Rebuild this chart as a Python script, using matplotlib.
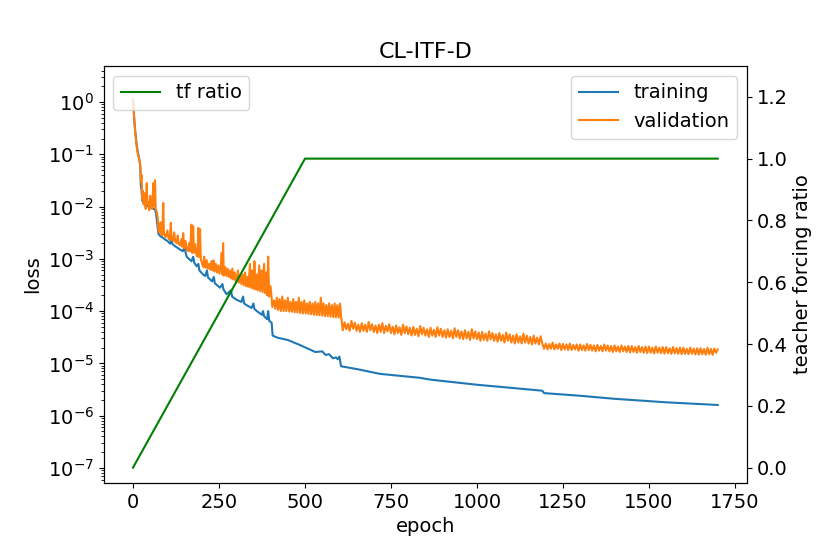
import numpy as np
import matplotlib
matplotlib.use("Agg")
import matplotlib.pyplot as plt
from matplotlib.ticker import MultipleLocator

plt.rcParams['font.size'] = 14

# training loss (epoch, loss)
train_epochs = [0, 2, 4, 6, 8, 10, 13, 16, 19, 21, 23, 25, 27, 30, 35, 40, 45, 50, 55, 60,
                64, 67, 70, 74, 80, 88, 95, 100, 108, 112, 115, 125, 137, 145, 150, 153, 156, 170, 175, 178,
                185, 190, 193, 204, 210, 215, 218, 230, 235, 238, 253, 260, 263, 272, 285, 288, 301, 315, 320, 323,
                330, 345, 350, 353, 360, 375, 378, 381, 390, 393, 396, 403, 406, 420, 450, 485, 530, 550, 560, 570,
                581, 590, 595, 600, 605, 650, 718, 834, 863, 1000, 1100, 1190, 1195, 1300, 1400, 1550, 1700]
train_loss = [1.1, 0.7, 0.42, 0.3, 0.22, 0.17, 0.12, 0.095, 0.075, 0.06, 0.025, 0.02, 0.013, 0.012, 0.011, 0.0105, 0.01, 0.0098, 0.0095, 0.009,
              0.0088, 0.0075, 0.005, 0.003, 0.0027, 0.0025, 0.0023, 0.0022, 0.00195, 0.0023, 0.0019, 0.0017, 0.0015, 0.0014, 0.0017, 0.0013, 0.0011, 0.0009, 0.0011, 0.00085,
              0.00072, 0.0008, 0.0006, 0.0005, 0.00047, 0.0006, 0.00044, 0.00037, 0.00045, 0.00034, 0.00028, 0.00033, 0.00026, 0.00021, 0.00025, 0.00019, 0.000165, 0.00015, 0.00019, 0.00014,
              0.00013, 0.000115, 0.00014, 0.00011, 0.0001, 8.5e-05, 0.0001, 8e-05, 7e-05, 0.0001, 6.5e-05, 6e-05, 3.4e-05, 3.1e-05, 2.8e-05, 2.25e-05, 1.65e-05, 1.7e-05, 1.45e-05, 1.5e-05,
              1.25e-05, 1.3e-05, 1.2e-05, 1.35e-05, 8.8e-06, 7.8e-06, 6.3e-06, 5.3e-06, 4.9e-06, 3.9e-06, 3.4e-06, 3.0e-06, 2.7e-06, 2.4e-06, 2.1e-06, 1.8e-06, 1.6e-06]

# validation loss, early part (epoch, loss)
val_epochs_early = [0, 2, 4, 6, 8, 10, 13, 16, 19, 21, 23, 25, 27, 29, 31, 33, 35, 37, 40, 42,
                    45, 47, 50, 52, 55, 57, 59, 61, 64, 66, 69, 72, 74, 77, 80, 82, 85, 88, 90, 95,
                    100, 103, 107, 110, 112, 116, 120, 123, 127, 130, 133, 137, 141, 144, 146, 149, 153, 156, 160, 163,
                    166, 170, 172, 175, 177, 181, 184, 188, 190, 192, 195, 197, 200, 204, 207, 210, 214, 217, 221, 224,
                    228, 231, 234, 237, 241, 244, 248, 251, 255, 258, 260, 262, 264, 268, 271, 275, 278, 282, 285, 289,
                    292, 296, 299, 301, 305, 308, 312, 315, 319, 322, 326, 329, 333, 336, 340, 343, 347, 350, 353, 356,
                    360, 363, 367, 370, 374, 377, 381, 384, 388, 390, 393, 396, 400, 403, 405, 410, 414, 418, 422, 426,
                    430, 434, 438, 442, 446, 450, 454, 458, 462, 466, 470, 474, 478, 482, 486, 490, 494, 498, 502, 506,
                    510, 514, 518, 522, 526, 530, 534, 538, 542, 546, 550, 554, 558, 562, 566, 570, 574, 578, 582, 586,
                    590, 594, 598, 602, 605]
val_early = [1.1, 0.7, 0.42, 0.28, 0.2, 0.15, 0.11, 0.09, 0.075, 0.065, 0.03, 0.04, 0.014, 0.02, 0.011, 0.018, 0.012, 0.009, 0.028, 0.011,
             0.012, 0.0085, 0.016, 0.01, 0.009, 0.014, 0.028, 0.01, 0.032, 0.009, 0.008, 0.006, 0.0035, 0.0032, 0.005, 0.003, 0.0028, 0.0117, 0.003, 0.0026,
             0.0035, 0.0025, 0.0023, 0.0049, 0.0024, 0.0022, 0.0032, 0.0021, 0.002, 0.0028, 0.0019, 0.0018, 0.0024, 0.0017, 0.0031, 0.0016, 0.0022, 0.0015, 0.0014, 0.002,
             0.0014, 0.0045, 0.0013, 0.0042, 0.0013, 0.0019, 0.0012, 0.0011, 0.0039, 0.0011, 0.0037, 0.001, 0.00085, 0.0007, 0.0011, 0.00068, 0.00095, 0.00065, 0.0008, 0.00062,
             0.0009, 0.0006, 0.00093, 0.00057, 0.0008, 0.00055, 0.00075, 0.00052, 0.0007, 0.0013, 0.0005, 0.002, 0.00048, 0.0007, 0.00047, 0.00065, 0.00045, 0.0006, 0.00042, 0.00065,
             0.0004, 0.00055, 0.00037, 0.00036, 0.0006, 0.00035, 0.00048, 0.00033, 0.0005, 0.00031, 0.00055, 0.0003, 0.00045, 0.00029, 0.0008, 0.00028, 0.0006, 0.00027, 0.0009, 0.00026,
             0.0005, 0.00025, 0.00075, 0.00024, 0.0006, 0.00023, 0.0008, 0.00022, 0.00055, 0.0002, 0.0011, 0.00019, 0.0003, 0.00018, 0.00012, 0.00016, 0.00011, 0.00018, 0.000105, 0.00017,
             0.0001, 0.00019, 0.0001, 0.00016, 0.0001, 0.00018, 9.8e-05, 0.00015, 9.7e-05, 0.00017, 9.5e-05, 0.00015, 9.4e-05, 0.00018, 9.2e-05, 0.00015, 9e-05, 0.00016, 9e-05, 0.00014,
             8.8e-05, 0.00015, 8.7e-05, 0.00014, 8.5e-05, 0.00015, 8.4e-05, 0.00014, 8.3e-05, 0.00018, 8.2e-05, 0.00014, 8e-05, 0.00013, 8e-05, 0.00014, 7.8e-05, 0.00013, 7.7e-05, 0.00014,
             7.6e-05, 0.00013, 7.5e-05, 0.00014, 8e-05]

# validation loss, later part, one value every 5 epochs from 610 to 1700 (x 1e-5)
val_late = [4.3, 6.1, 4.5, 5.7, 4.2, 6.5, 4.6, 6.0, 4.2, 5.5,
            4.0, 5.9, 4.2, 5.5, 4.0, 6.2, 4.3, 5.6, 4.0, 5.3,
            3.8, 5.5, 4.0, 5.9, 3.8, 5.2, 4.1, 5.6, 3.8, 5.0,
            3.6, 5.3, 3.8, 4.9, 3.5, 5.5, 3.8, 5.1, 3.6, 4.8,
            3.4, 5.0, 3.5, 4.6, 3.3, 5.2, 3.6, 4.8, 3.4, 4.5,
            3.2, 4.8, 3.4, 4.4, 3.2, 4.9, 3.4, 4.6, 3.2, 4.3,
            3.1, 4.5, 3.2, 4.2, 3.0, 4.7, 3.2, 4.3, 3.0, 4.1,
            2.9, 4.3, 3.0, 4.0, 2.8, 4.5, 3.0, 4.1, 2.9, 3.9,
            2.7, 4.0, 2.8, 3.7, 2.7, 4.1, 2.9, 3.8, 2.7, 3.6,
            2.6, 3.8, 2.7, 3.5, 2.5, 3.9, 2.7, 3.6, 2.5, 3.4,
            2.4, 3.6, 2.5, 3.3, 2.4, 3.7, 2.5, 3.4, 2.4, 3.2,
            2.3, 3.4, 2.4, 3.1, 2.3, 3.3, 2.4,
            1.9, 2.4, 1.85, 2.35, 1.9, 2.5, 1.85, 2.3, 1.9, 2.4,
            1.8, 2.35, 1.85, 2.3, 1.8, 2.4, 1.8, 2.25, 1.85, 2.3,
            1.75, 2.3, 1.8, 2.2, 1.75, 2.35, 1.8, 2.25, 1.75, 2.2,
            1.7, 2.25, 1.75, 2.15, 1.7, 2.3, 1.75, 2.2, 1.7, 2.15,
            1.65, 2.2, 1.7, 2.1, 1.65, 2.2, 1.7, 2.1, 1.65, 2.15,
            1.62, 2.15, 1.65, 2.05, 1.6, 2.15, 1.65, 2.05, 1.6, 2.1,
            1.58, 2.1, 1.6, 2.0, 1.55, 2.1, 1.6, 2.0, 1.56, 2.05,
            1.54, 2.05, 1.56, 1.95, 1.52, 2.05, 1.55, 1.95, 1.52, 2.0,
            1.5, 2.0, 1.52, 1.9, 1.5, 2.0, 1.52, 1.92, 1.48, 1.95,
            1.47, 1.95, 1.5, 1.88, 1.46, 1.98, 1.5, 1.9, 1.45, 1.92,
            1.6, 1.85]
val_epochs_late = np.arange(610, 1701, 5)

# teacher forcing schedule
tf_epochs = [0, 500, 1700]
tf_ratio = [0.0, 1.0, 1.0]

val_epochs = np.concatenate([val_epochs_early, val_epochs_late])
val_loss = np.concatenate([val_early, np.array(val_late) * 1e-5])

fig, ax = plt.subplots(figsize=(8.3, 5.54), dpi=100)
fig.subplots_adjust(left=0.125, right=0.9, bottom=0.128, top=0.881)

ax.plot(train_epochs, train_loss, label='training')
ax.plot(val_epochs, val_loss, label='validation')
ax.set_yscale('log')
ax.set_ylim(10 ** -7.29, 10 ** 0.69)
ax.xaxis.set_major_locator(MultipleLocator(250))
ax.set_xlabel('epoch')
ax.set_ylabel('loss')
ax.set_title('CL-ITF-D', fontsize=16)
ax.legend(loc='upper right')

ax2 = ax.twinx()
ax2.plot(tf_epochs, tf_ratio, color='green', label='tf ratio')
ax2.set_ylim(-0.05, 1.3)
ax2.set_ylabel('teacher forcing ratio')
ax2.legend(loc='upper left')

fig.savefig('out.png')
